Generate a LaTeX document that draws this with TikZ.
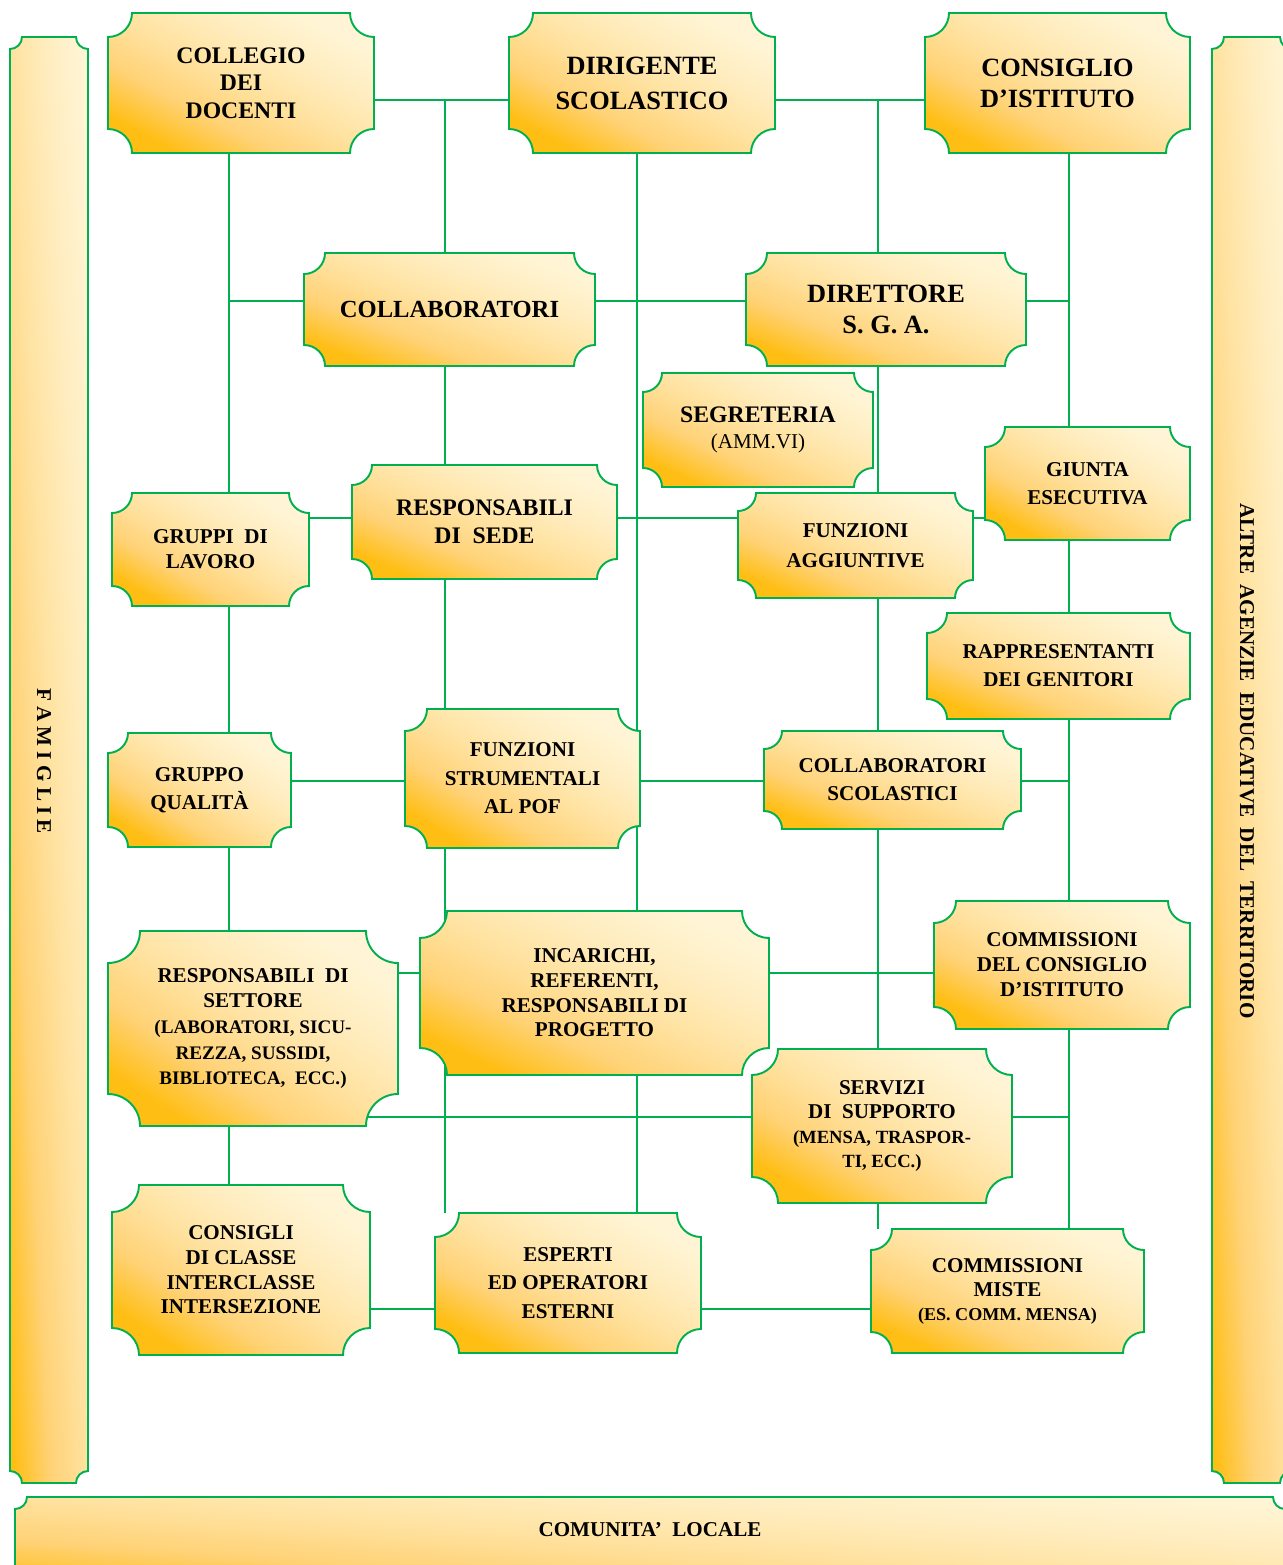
\documentclass[tikz,border=0pt]{standalone}
\usepackage{fontspec}
\setmainfont{Liberation Serif}
\usetikzlibrary{backgrounds}

\definecolor{linegreen}{RGB}{0,176,80}
\definecolor{boxgold}{RGB}{255,190,20}
\definecolor{boxwarm}{RGB}{255,210,118}
\definecolor{boxmid}{RGB}{255,226,160}
\definecolor{boxpale}{RGB}{255,237,192}
\definecolor{boxlight}{RGB}{255,245,214}

\pgfdeclareverticalshading{orgshade}{100bp}{color(0bp)=(boxgold); color(25bp)=(boxgold);
  color(37.5bp)=(boxwarm); color(50bp)=(boxmid); color(62.5bp)=(boxpale);
  color(75bp)=(boxlight); color(100bp)=(boxlight)}

\newcommand{\fsz}[2]{\fontsize{#1}{#2}\selectfont}

% scooped box: {left}{top}{right}{bottom}{radius}, pixel units
\newcommand{\orgshape}[5]{%
  \pgfmathsetmacro{\ba}{-atan((#4-#2)/(#3-#1))}
  \shade[boxfill,shading angle=\ba] (#1+#5,-#2) -- (#3-#5,-#2) arc[start angle=180,end angle=270,radius=#5]
    -- (#3,-#4+#5) arc[start angle=90,end angle=180,radius=#5]
    -- (#1+#5,-#4) arc[start angle=0,end angle=90,radius=#5]
    -- (#1,-#2-#5) arc[start angle=270,end angle=360,radius=#5] -- cycle;}

% [text opts]{name}{left}{top}{right}{bottom}{radius}{text}
\newcommand{\orgbox}[8][]{%
  \orgshape{#3}{#4}{#5}{#6}{#7}
  \pgfmathsetmacro{\bw}{(#5-#3)*0.569055}
  \pgfmathsetmacro{\bh}{(#6-#4)*0.569055}
  \node[boxtext,#1,minimum width=\bw pt,minimum height=\bh pt] (#2) at ({(#3+#5)/2},{-(#4+#6)/2}) {#8};}

\tikzset{
  boxfill/.style={shading=orgshade, draw=linegreen, line width=1.1pt},
  boxtext/.style={inner sep=0pt, align=center, font=\bfseries\fsz{12}{16}},
  bartext/.style={inner sep=0pt, font=\bfseries\fsz{12}{14}},
  link/.style={draw=linegreen, line width=1.1pt},
}

\begin{document}
\begin{tikzpicture}[x=0.02cm, y=0.02cm]
\useasboundingbox (0,0) rectangle (1283,-1565);
\clip (0,0) rectangle (1283,-1565);

% outer bars
\orgshape{10}{37}{88}{1483}{12}
\orgshape{1212}{37}{1292}{1483}{12}
\orgshape{15}{1497}{1285}{1590}{12}
\node[bartext, rotate=-90] (famiglie) at (44,-761) {F A M I G L I E};
\node[bartext, rotate=-90] (agenzie) at (1247,-761) {ALTRE\ \ AGENZIE\ \ EDUCATIVE\ \ DEL\ \ TERRITORIO};
\node[bartext] (comunita) at (650,-1530) {COMUNITA’\ \ LOCALE};

% top row
\orgbox[font=\bfseries\fsz{13.5}{15.6}]{collegio}{108}{13}{374}{153}{24}{COLLEGIO\\DEI\\DOCENTI}
\orgbox[font=\bfseries\fsz{15}{20}]{dirigente}{509}{13}{775}{153}{24}{DIRIGENTE\\SCOLASTICO}
\orgbox[font=\bfseries\fsz{15}{17.6}]{consiglio}{925}{13}{1190}{153}{24}{CONSIGLIO\\D’ISTITUTO}

\orgbox[font=\bfseries\fsz{14}{16}]{collab}{304}{253}{595}{366}{21}{COLLABORATORI}
\orgbox[font=\bfseries\fsz{15}{17.6}]{dsga}{746}{253}{1026}{366}{21}{DIRETTORE\\S. G. A.}
\orgbox[font=\bfseries\fsz{13.5}{14.4}]{segreteria}{643}{373}{873}{487}{19}{SEGRETERIA\\{\mdseries\fsz{12}{14}(AMM.VI)}}
\orgbox{giunta}{985}{427}{1190}{540}{20}{GIUNTA\\ESECUTIVA}
\orgbox[font=\bfseries\fsz{12}{14.2}]{gruppi}{112}{493}{309}{606}{20}{GRUPPI\ \ DI\\LAVORO}
\orgbox[font=\bfseries\fsz{13.5}{16}]{sede}{352}{465}{617}{579}{20}{RESPONSABILI\\DI\ \ SEDE}
\orgbox[font=\bfseries\fsz{12}{17}]{aggiuntive}{738}{493}{973}{598}{18}{FUNZIONI\\AGGIUNTIVE}
\orgbox{genitori}{927}{613}{1190}{719}{20}{RAPPRESENTANTI\\DEI GENITORI}
\orgbox{qualita}{108}{733}{291}{847}{20}{GRUPPO\\QUALITÀ}
\orgbox[font=\bfseries\fsz{12}{16.2}]{strumentali}{405}{709}{640}{848}{22}{FUNZIONI\\STRUMENTALI\\AL POF}
\orgbox{scolastici}{764}{731}{1021}{829}{18}{COLLABORATORI\\SCOLASTICI}
\orgbox[font=\bfseries\fsz{12}{14.6}]{settore}{108}{931}{398}{1126}{32}{RESPONSABILI\ \ DI\\SETTORE\\{\fsz{10.9}{14}(LABORATORI, SICU-}\\{\fsz{10.9}{14}REZZA, SUSSIDI,}\\{\fsz{10.9}{14}BIBLIOTECA,\ \ ECC.)}}
\orgbox[font=\bfseries\fsz{12}{14}]{incarichi}{420}{911}{769}{1075}{27}{INCARICHI,\\REFERENTI,\\RESPONSABILI DI\\PROGETTO}
\orgbox[font=\bfseries\fsz{12}{14.2}]{commcons}{934}{901}{1190}{1029}{22}{COMMISSIONI\\DEL CONSIGLIO\\D’ISTITUTO}
\orgbox[font=\bfseries\fsz{12}{14}]{servizi}{752}{1049}{1012}{1203}{26}{SERVIZI\\DI\ \ SUPPORTO\\{\fsz{10.6}{14}(MENSA, TRASPOR-}\\{\fsz{10.6}{14}TI, ECC.)}}
\orgbox[font=\bfseries\fsz{12}{14}]{consigli}{112}{1185}{370}{1355}{27}{CONSIGLI\\DI CLASSE\\INTERCLASSE\\INTERSEZIONE}
\orgbox{esperti}{435}{1213}{701}{1353}{24}{ESPERTI\\ED OPERATORI\\ESTERNI}
\orgbox[font=\bfseries\fsz{12}{13.7}]{miste}{871}{1229}{1144}{1353}{21}{COMMISSIONI\\MISTE\\{\fsz{10.3}{13.7}(ES. COMM. MENSA)}}

% connector grid
\coordinate (rowA) at (0,-100);
\coordinate (rowB) at (0,-301);
\coordinate (rowC) at (0,-518);
\coordinate (rowD) at (0,-781);
\coordinate (rowE) at (0,-973);
\coordinate (rowF) at (0,-1117);
\coordinate (rowG) at (0,-1309);
\coordinate (colA) at (229,0);
\coordinate (colB) at (445,0);
\coordinate (colC) at (637,0);
\coordinate (colD) at (878,0);
\coordinate (colE) at (1069,0);

\begin{scope}[on background layer]
\draw[link] (collegio.east |- rowA) -- (consiglio.west |- rowA);
\draw[link] (colA |- collegio.south) -- (colA |- consigli.north);
\draw[link] (colB |- rowA) -- (colB |- esperti.north);
\draw[link] (colC |- dirigente.south) -- (colC |- esperti.north);
\draw[link] (colD |- rowA) -- (colD |- miste.north);
\draw[link] (colE |- consiglio.south) -- (colE |- miste.north);
\draw[link] (colA |- rowB) -- (colE |- rowB);
\draw[link] (gruppi.east |- rowC) -- (giunta.west |- rowC);
\draw[link] (qualita.east |- rowD) -- (colE |- rowD);
\draw[link] (settore.east |- rowE) -- (commcons.west |- rowE);
\draw[link] (settore.center |- rowF) -- (colE |- rowF);
\draw[link] (consigli.east |- rowG) -- (miste.west |- rowG);
\end{scope}
\end{tikzpicture}
\end{document}
